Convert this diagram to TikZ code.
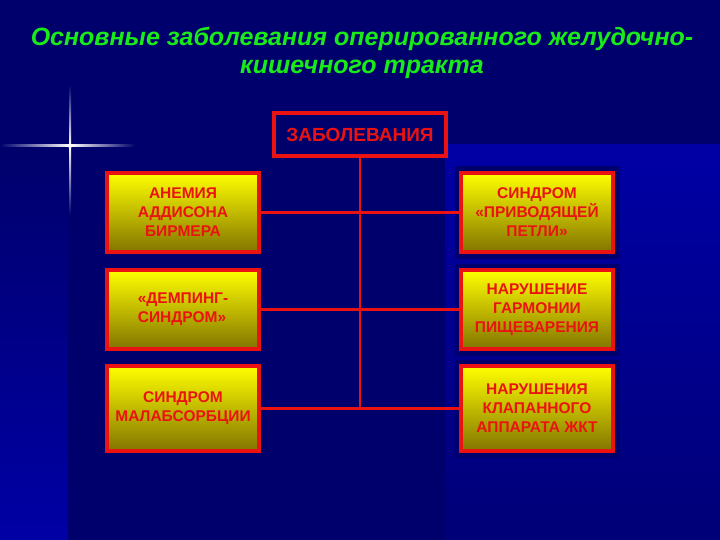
\documentclass[tikz,border=0pt]{standalone}
\usepackage{fontspec}
\setmainfont{Liberation Sans}
\usetikzlibrary{positioning}

\definecolor{slidenavy}{RGB}{0,0,108}
\definecolor{slideblue}{RGB}{0,0,165}
\definecolor{titlegreen}{RGB}{25,235,25}
\definecolor{boxred}{RGB}{235,18,18}
\definecolor{boxolive}{RGB}{130,116,0}
\definecolor{sparkblue}{RGB}{120,160,255}

\begin{document}
\begin{tikzpicture}[x=1pt, y=-1pt,
    block/.style={rectangle, draw=boxred, line width=4pt, top color=yellow, bottom color=boxolive,
        minimum width=152pt, minimum height=79pt, align=center, text=boxred, inner sep=2pt,
        font=\fontsize{15.5}{19}\selectfont\bfseries,
        preaction={draw=slidenavy, line width=13pt}},
    topbox/.style={rectangle, draw=boxred, line width=4pt, fill=slidenavy, text=boxred,
        minimum width=172pt, minimum height=43pt, font=\fontsize{19}{21}\selectfont\bfseries},
    head/.style={align=center, text=titlegreen, font=\fontsize{25}{28}\selectfont\bfseries\itshape},
    link/.style={draw=boxred, line width=2.5pt}]

    % Background
    \useasboundingbox (0,0) rectangle (720,540);
    \fill[slidenavy] (0,0) rectangle (720,540);
    \shade[top color=slidenavy, bottom color=slideblue] (0,150) rectangle (68,540);
    \shade[top color=slideblue, bottom color=slidenavy!80!slideblue] (445,145) rectangle (720,540);

    % Sparkle
    \shade[left color=slidenavy, right color=white] (0,145) rectangle (70,147);
    \shade[left color=white, right color=slidenavy] (70,145) rectangle (135,147);
    \shade[top color=slidenavy, bottom color=white] (69,85) rectangle (71,146);
    \shade[top color=white, bottom color=slidenavy] (69,146) rectangle (71,215);
    \fill[white] (70,146) circle (2pt);

    % Title
    \node[head] (title) at (362,53) {Основные заболевания оперированного желудочно-\\кишечного тракта};

    % Root
    \node[topbox] (zab) at (360,134.5) {ЗАБОЛЕВАНИЯ};

    % Left column
    \node[block] (anem) at (183,212.5) {АНЕМИЯ\\АДДИСОНА\\БИРМЕРА};
    \node[block, below=14pt of anem, align=left] (demp) {«ДЕМПИНГ-\\СИНДРОМ»};
    \node[block, below=13pt of demp, minimum height=85pt] (malab) {СИНДРОМ\\МАЛАБСОРБЦИИ};

    % Right column
    \node[block, right=198pt of anem] (petl) {СИНДРОМ\\«ПРИВОДЯЩЕЙ\\ПЕТЛИ»};
    \node[block, right=198pt of demp] (garm) {НАРУШЕНИЕ\\ГАРМОНИИ\\ПИЩЕВАРЕНИЯ};
    \node[block, right=198pt of malab, minimum height=85pt] (klap) {НАРУШЕНИЯ\\КЛАПАННОГО\\АППАРАТА ЖКТ};

    % Lines
    \draw[link] (zab.south) -- (zab.south |- malab.east);
    \draw[link] (anem.east) -- (petl.west);
    \draw[link] (demp.east) -- (garm.west);
    \draw[link] (malab.east) -- (klap.west);

\end{tikzpicture}
\end{document}
